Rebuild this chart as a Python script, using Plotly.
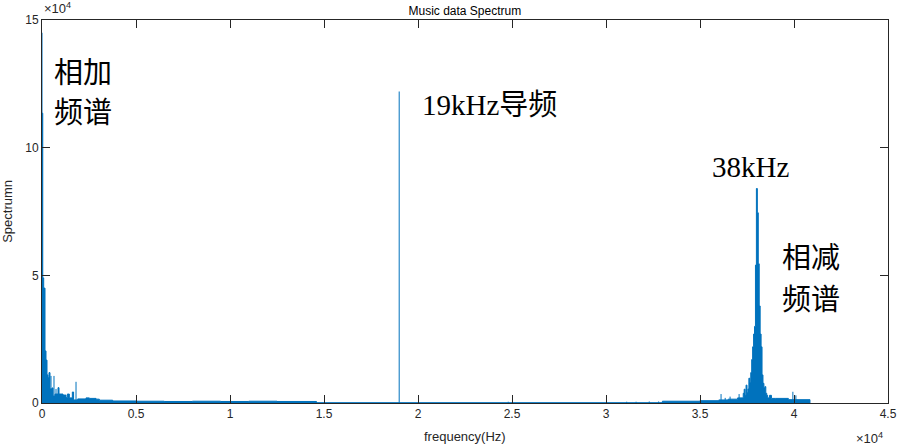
import plotly.graph_objects as go

# ---------------- data ----------------
# spectrum envelope (Hz, magnitude) — drawn as a step area
env_freq = [0, 40, 90, 160, 213, 266, 319, 372, 426, 532, 585, 691, 851, 904,
            1117, 1277, 1348, 1454, 1614, 1680, 1898, 2341, 2518, 2873, 3050,
            3760, 5000, 6500, 8000, 9500, 11000, 12500, 14600,
            33000, 35000, 36000, 36500, 37000,
            37300, 37350, 37400, 37450, 37500, 37550, 37600, 37650, 37700,
            37750, 37800, 37850, 37900, 37950, 38000, 38050, 38100, 38150,
            38200, 38250, 38300, 38350, 38400, 38450, 38500, 38550, 38600,
            38700, 38800, 39000, 39700, 40850]
env_amp = [113500, 49000, 45000, 20400, 16800, 11000, 9900, 11900, 5500, 5900,
           2700, 3500, 6000, 3500,
           3100, 2100, 3500, 2000, 4300, 1200, 1600, 2000, 1800, 1500, 1100,
           800, 700, 600, 700, 600, 700, 600, 0,
           700, 900, 1200, 1500, 2000,
           3800, 5400, 3000, 7000, 4000, 5500, 9700, 8000, 11900,
           17000, 22000, 27000, 30000, 54000, 84000, 74500, 54500, 38000,
           27000, 22000, 11000, 7700, 5900, 6400, 3800, 3000, 2000,
           3000, 1800, 1800, 1300, 0]

# isolated spectral lines (Hz, magnitude)
spike_freq = [0, 479, 638, 745, 1810, 19000, 24800, 31100, 31600, 32300,
              32800, 36120, 36340, 36600, 37080, 39940, 40100]
spike_amp = [145000, 10600, 10600, 5500, 8300, 122000, 500, 500, 500, 600,
             600, 3500, 2000, 2500, 3500, 4400, 3000]

x_tick_vals = [0, 5000, 10000, 15000, 20000, 25000, 30000, 35000, 40000, 45000]
x_tick_text = ["0", "0.5", "1", "1.5", "2", "2.5", "3", "3.5", "4", "4.5"]
y_tick_vals = [0, 50000, 100000, 150000]
y_tick_text = ["0", "5", "10", "15"]

# ---------------- figure ----------------
BLUE = "#0072BD"
AX = "#262626"
SANS = "Liberation Sans, Arial"

fig = go.Figure()
fig.add_trace(go.Scatter(x=env_freq, y=env_amp, mode="lines", line_shape="hv",
                         fill="tozeroy", fillcolor=BLUE,
                         line=dict(color=BLUE, width=1), hoverinfo="skip"))
sx, sy = [], []
for f, a in zip(spike_freq, spike_amp):
    sx += [f, f, None]
    sy += [0, a, None]
fig.add_trace(go.Scatter(x=sx, y=sy, mode="lines",
                         line=dict(color=BLUE, width=1), hoverinfo="skip"))
# zero line of the spectrum across its full frequency range
fig.add_trace(go.Scatter(x=[env_freq[0], env_freq[-1]], y=[0, 0], mode="lines",
                         line=dict(color=BLUE, width=1.5), hoverinfo="skip"))

axis_common = dict(showline=True, linecolor=AX, linewidth=1, mirror="ticks",
                   ticks="inside", ticklen=8, tickwidth=1, tickcolor=AX,
                   showgrid=False, zeroline=False, automargin=False,
                   tickfont=dict(family=SANS, size=12, color=AX))

fig.update_layout(
    width=900, height=448,
    margin=dict(l=42, r=12, t=20, b=45),
    paper_bgcolor="white", plot_bgcolor="white",
    showlegend=False,
    title=dict(text="Music data Spectrum", x=0.5165, xanchor="center",
               y=0.985, yanchor="top",
               font=dict(family=SANS, size=12, color="#000000")),
    xaxis=dict(range=[0, 45000], tickvals=x_tick_vals, ticktext=x_tick_text,
               **axis_common),
    yaxis=dict(range=[0, 150000], tickvals=y_tick_vals, ticktext=y_tick_text,
               **axis_common),
)

# axis titles
fig.add_annotation(text="frequency(Hz)", xref="paper", yref="paper",
                   x=0.5, y=-0.088, xanchor="center", yanchor="middle",
                   showarrow=False, font=dict(family=SANS, size=13, color=AX))
fig.add_annotation(text="Spectrumn", xref="paper", yref="paper",
                   x=-0.041, y=0.5, xanchor="center", yanchor="middle",
                   textangle=-90, showarrow=False,
                   font=dict(family=SANS, size=13, color=AX))

# exponent labels
fig.add_annotation(text="×10<sup>4</sup>", xref="paper", yref="paper",
                   x=0, y=1.006, xanchor="left", yanchor="bottom", showarrow=False,
                   font=dict(family=SANS, size=13, color=AX))
fig.add_annotation(text="×10<sup>4</sup>", xref="paper", yref="paper",
                   x=0.9965, y=-0.0914, xanchor="right", yanchor="middle",
                   showarrow=False, font=dict(family=SANS, size=13, color=AX))

# text annotations
cjk = "Noto Sans CJK SC"
serif = "Liberation Serif, " + cjk
labels = [
    ("相加", 532, 130400, cjk),
    ("频谱", 532, 114700, cjk),
    ("19kHz导频", 20100, 116700, serif),
    ("38kHz", 35530, 92400, serif),
    ("相减", 39250, 58000, cjk),
    ("频谱", 39250, 41500, cjk),
]
for t, x, y, fam in labels:
    fig.add_annotation(text=t, x=x, y=y, xref="x", yref="y", xanchor="left",
                       yanchor="middle", showarrow=False,
                       font=dict(family=fam, size=29, color="#000000"))

fig.write_html("out.html",
               config={"displayModeBar": False},
               post_script="document.body.style.margin='0';"
                           "document.body.style.padding='0';")
